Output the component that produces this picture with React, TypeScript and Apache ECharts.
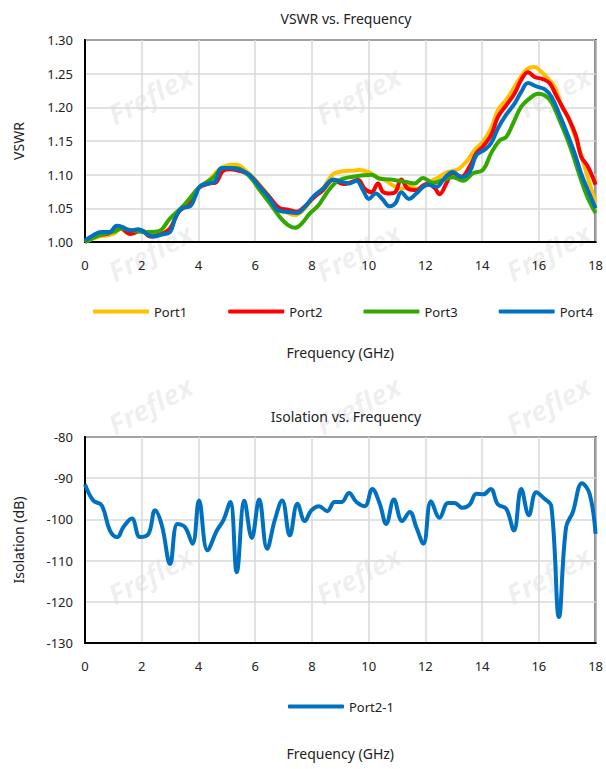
import React, { useEffect, useRef } from "react";
import * as echarts from "echarts";

const FONT = "Noto Sans";

const xTicks = [0, 2, 4, 6, 8, 10, 12, 14, 16, 18];

const port1Freq = [0, 0.5, 1.0, 1.3, 1.6, 2.0, 2.3, 2.7, 3.0, 3.3, 3.6, 4.0, 4.4, 4.8, 5.3, 5.7, 6.16, 6.52, 6.81, 7.1, 7.4, 7.75, 8.04, 8.39, 8.75, 9.1, 9.45, 9.69, 9.98, 10.27, 10.57, 10.86, 11.15, 11.45, 11.68, 11.92, 12.15, 12.5, 12.8, 13.15, 13.44, 13.74, 14.03, 14.32, 14.56, 14.85, 15.15, 15.44, 15.67, 15.85, 16.08, 16.32, 16.55, 16.79, 17.02, 17.26, 17.49, 17.73, 18];
const port1Vswr = [1.0, 1.008, 1.012, 1.02, 1.015, 1.017, 1.01, 1.013, 1.02, 1.045, 1.055, 1.08, 1.093, 1.11, 1.115, 1.105, 1.085, 1.066, 1.048, 1.044, 1.04, 1.05, 1.066, 1.08, 1.101, 1.105, 1.106, 1.107, 1.104, 1.097, 1.092, 1.084, 1.079, 1.083, 1.079, 1.082, 1.089, 1.097, 1.104, 1.108, 1.119, 1.137, 1.149, 1.169, 1.196, 1.211, 1.231, 1.25, 1.259, 1.26, 1.253, 1.243, 1.231, 1.203, 1.186, 1.159, 1.129, 1.095, 1.058];

const port2Freq = [0, 0.4, 0.8, 1.2, 1.6, 2.0, 2.3, 2.7, 3.0, 3.3, 3.6, 4.0, 4.4, 4.6, 4.85, 5.1, 5.5, 5.81, 6.16, 6.52, 6.87, 7.16, 7.46, 7.75, 8.04, 8.39, 8.75, 9.1, 9.33, 9.63, 9.86, 10.1, 10.33, 10.51, 10.74, 10.94, 11.15, 11.39, 11.68, 11.92, 12.09, 12.33, 12.5, 12.74, 12.97, 13.27, 13.56, 13.8, 14.03, 14.32, 14.56, 14.85, 15.15, 15.38, 15.62, 15.85, 16.14, 16.38, 16.61, 16.85, 17.08, 17.32, 17.49, 17.73, 18];
const port2Vswr = [1.0, 1.01, 1.012, 1.022, 1.012, 1.017, 1.008, 1.012, 1.02, 1.045, 1.055, 1.08, 1.087, 1.088, 1.105, 1.108, 1.105, 1.099, 1.083, 1.066, 1.05, 1.048, 1.045, 1.053, 1.065, 1.077, 1.092, 1.086, 1.088, 1.092, 1.079, 1.074, 1.087, 1.074, 1.072, 1.074, 1.093, 1.079, 1.077, 1.084, 1.087, 1.08, 1.071, 1.087, 1.102, 1.097, 1.112, 1.132, 1.142, 1.159, 1.186, 1.203, 1.221, 1.241, 1.252, 1.245, 1.242, 1.236, 1.218, 1.199, 1.181, 1.156, 1.127, 1.112, 1.085];

const port3Freq = [0, 0.5, 1.0, 1.3, 1.7, 2.0, 2.3, 2.6, 3.0, 3.5, 4.0, 4.5, 4.9, 5.3, 5.81, 6.16, 6.52, 6.87, 7.16, 7.4, 7.63, 7.92, 8.22, 8.51, 8.8, 9.1, 9.45, 9.8, 10.1, 10.39, 10.74, 11.04, 11.33, 11.62, 11.92, 12.27, 12.62, 12.97, 13.33, 13.68, 14.03, 14.32, 14.62, 14.85, 15.09, 15.38, 15.67, 15.97, 16.2, 16.44, 16.73, 17.02, 17.26, 17.49, 17.73, 18];
const port3Vswr = [1.0, 1.01, 1.015, 1.02, 1.017, 1.015, 1.015, 1.016, 1.035, 1.055, 1.08, 1.095, 1.11, 1.11, 1.097, 1.077, 1.057, 1.037, 1.025, 1.021, 1.027, 1.042, 1.054, 1.072, 1.087, 1.094, 1.097, 1.099, 1.1, 1.094, 1.093, 1.091, 1.089, 1.087, 1.095, 1.088, 1.092, 1.096, 1.091, 1.102, 1.107, 1.132, 1.151, 1.156, 1.176, 1.201, 1.213, 1.22, 1.218, 1.208, 1.181, 1.151, 1.122, 1.092, 1.065, 1.043];

const port4Freq = [0, 0.29, 0.59, 0.86, 1.12, 1.33, 1.59, 1.88, 2.18, 2.41, 2.71, 3.0, 3.18, 3.41, 3.71, 3.88, 4.06, 4.35, 4.59, 4.82, 5.12, 5.47, 5.81, 6.16, 6.52, 6.81, 7.1, 7.46, 7.75, 8.04, 8.39, 8.75, 9.1, 9.33, 9.57, 9.8, 10.01, 10.25, 10.48, 10.74, 10.95, 11.15, 11.42, 11.68, 11.92, 12.09, 12.39, 12.68, 12.97, 13.27, 13.56, 13.8, 14.09, 14.32, 14.56, 14.85, 15.15, 15.38, 15.62, 15.91, 16.2, 16.44, 16.73, 17.02, 17.26, 17.49, 17.73, 18];
const port4Vswr = [1.002, 1.01, 1.015, 1.015, 1.024, 1.022, 1.017, 1.019, 1.012, 1.008, 1.011, 1.015, 1.035, 1.05, 1.053, 1.067, 1.083, 1.087, 1.09, 1.11, 1.11, 1.107, 1.099, 1.082, 1.064, 1.047, 1.045, 1.043, 1.052, 1.067, 1.079, 1.093, 1.089, 1.087, 1.091, 1.077, 1.064, 1.072, 1.064, 1.053, 1.058, 1.074, 1.064, 1.072, 1.082, 1.085, 1.082, 1.095, 1.104, 1.096, 1.104, 1.129, 1.137, 1.147, 1.169, 1.189, 1.206, 1.223, 1.236, 1.231, 1.227, 1.216, 1.189, 1.159, 1.132, 1.102, 1.077, 1.05];

const isoFreq = [0, 0.29, 0.59, 0.88, 1.14, 1.35, 1.65, 1.94, 2.24, 2.47, 2.71, 3.0, 3.26, 3.53, 3.79, 4.02, 4.32, 4.65, 4.88, 5.12, 5.35, 5.62, 5.88, 6.14, 6.42, 6.69, 6.95, 7.22, 7.49, 7.75, 7.98, 8.25, 8.54, 8.8, 9.04, 9.31, 9.57, 9.86, 10.13, 10.39, 10.62, 10.89, 11.18, 11.45, 11.68, 11.93, 12.2, 12.5, 12.8, 13.03, 13.3, 13.56, 13.8, 14.05, 14.3, 14.56, 14.85, 15.12, 15.38, 15.65, 15.91, 16.2, 16.44, 16.71, 16.96, 17.2, 17.52, 17.79, 18];
const isoDb = [-91.5, -95.4, -96.6, -102.7, -104.3, -101.9, -99.8, -104.3, -103.5, -97.8, -101.5, -110.8, -101.1, -101.9, -105.9, -95.4, -107.5, -102.7, -100.2, -95.8, -112.8, -95.5, -104.5, -95.2, -107.1, -100.2, -95.4, -103.9, -96.2, -100.4, -97.8, -96.8, -98.0, -95.8, -95.8, -93.6, -95.8, -96.8, -92.6, -96.2, -101.1, -95.2, -100.4, -98.2, -101.9, -105.9, -95.6, -99.6, -96.0, -96.0, -97.2, -96.4, -93.8, -93.9, -92.6, -96.4, -97.4, -102.7, -92.6, -99.0, -93.4, -95.0, -96.8, -123.7, -101.9, -98.2, -91.2, -93.8, -103.5];

const vswrNames = ["Port1", "Port2", "Port3", "Port4"];
const isoName = "Port2-1";
const colors = ["#FFC000", "#FF0000", "#33A800", "#0070C0"];

const zip = (xs: number[], ys: number[]) => xs.map((x, i) => [x, ys[i]]);

const watermarkPos = [
  [150, 95], [358, 95], [548, 95],
  [150, 252], [358, 252], [548, 252],
  [150, 405], [358, 405], [548, 405],
  [150, 575], [358, 575], [548, 575],
];

export default function App() {
  const ref = useRef<HTMLDivElement>(null);
  useEffect(() => {
    if (!ref.current) return;
    const chart = echarts.init(ref.current, null, { renderer: "svg" });
    const axisLabel = { color: "#222", fontFamily: FONT, fontSize: 13 };
    const splitLine = { show: true, lineStyle: { color: "#d9d9d9", width: 1.5 } };
    const xAxisCommon = {
      type: "value" as const,
      min: 0,
      max: 18,
      interval: 2,
      axisLine: { show: true, onZero: false, lineStyle: { color: "#000", width: 2 } },
      axisTick: { show: false },
      axisLabel: { ...axisLabel, margin: 16 },
      splitLine,
      name: "Frequency (GHz)",
      nameLocation: "middle" as const,
      nameGap: 103,
      nameTextStyle: { color: "#222", fontFamily: FONT, fontSize: 14 },
    };
    const vswrData = [
      zip(port1Freq, port1Vswr),
      zip(port2Freq, port2Vswr),
      zip(port3Freq, port3Vswr),
      zip(port4Freq, port4Vswr),
    ];
    const legendCommon = {
      icon: "roundRect",
      itemWidth: 56,
      itemHeight: 4,
      padding: 0,
      textStyle: { fontFamily: FONT, fontSize: 13, color: "#222" },
    };
    const option: any = {
      animation: false,
      backgroundColor: "#fff",
      textStyle: { fontFamily: FONT },
      title: [
        {
          text: "VSWR vs. Frequency",
          left: 341,
          top: 6,
          textAlign: "center",
          textStyle: { fontFamily: FONT, fontSize: 14, fontWeight: "normal", color: "#222" },
        },
        {
          text: "Isolation vs. Frequency",
          left: 341,
          top: 404,
          textAlign: "center",
          textStyle: { fontFamily: FONT, fontSize: 14, fontWeight: "normal", color: "#222" },
        },
      ],
      graphic: watermarkPos.map(([x, y]) => ({
        type: "text",
        x,
        y,
        rotation: (28 * Math.PI) / 180,
        z: 0,
        silent: true,
        style: {
          text: "Freflex",
          fill: "rgba(0,0,0,0.07)",
          font: `italic bold 28px "${FONT}"`,
          align: "center",
          verticalAlign: "middle",
        },
      })),
      legend: [
        {
          ...legendCommon,
          data: vswrNames,
          top: 305,
          left: 93,
          itemGap: 41,
        },
        {
          ...legendCommon,
          data: [isoName],
          top: 700,
          left: 288,
        },
      ],
      grid: [
        { left: 85, right: 10, top: 40, height: 202, show: true, borderColor: "#000", borderWidth: 2, backgroundColor: "transparent" },
        { left: 85, right: 10, top: 437, height: 206, show: true, borderColor: "#000", borderWidth: 2, backgroundColor: "transparent" },
      ],
      xAxis: [
        { ...xAxisCommon, gridIndex: 0 },
        { ...xAxisCommon, gridIndex: 1 },
      ],
      yAxis: [
        {
          type: "value",
          gridIndex: 0,
          min: 1,
          max: 1.3,
          interval: 0.05,
          axisLine: { show: true, lineStyle: { color: "#000", width: 2 } },
          axisTick: { show: false },
          axisLabel: { ...axisLabel, margin: 12, formatter: (v: number) => v.toFixed(2) },
          splitLine,
          name: "VSWR",
          nameLocation: "middle",
          nameGap: 60,
          nameTextStyle: { color: "#222", fontFamily: FONT, fontSize: 14 },
        },
        {
          type: "value",
          gridIndex: 1,
          min: -130,
          max: -80,
          interval: 10,
          axisLine: { show: true, lineStyle: { color: "#000", width: 2 } },
          axisTick: { show: false },
          axisLabel: { ...axisLabel, margin: 12 },
          splitLine,
          name: "Isolation (dB)",
          nameLocation: "middle",
          nameGap: 60,
          nameTextStyle: { color: "#222", fontFamily: FONT, fontSize: 14 },
        },
      ],
      series: [
        ...vswrNames.map((name, i) => ({
          name,
          type: "line",
          xAxisIndex: 0,
          yAxisIndex: 0,
          data: vswrData[i],
          smooth: 0.4,
          showSymbol: false,
          symbol: "none",
          z: 3 + i,
          lineStyle: { color: colors[i], width: 4 },
          itemStyle: { color: colors[i] },
        })),
        {
          name: isoName,
          type: "line",
          xAxisIndex: 1,
          yAxisIndex: 1,
          data: zip(isoFreq, isoDb),
          smooth: 0.4,
          showSymbol: false,
          symbol: "none",
          z: 3,
          lineStyle: { color: colors[3], width: 4 },
          itemStyle: { color: colors[3] },
        },
      ],
    };
    chart.setOption(option);
    return () => chart.dispose();
  }, []);
  return (
    <div
      ref={ref}
      style={{ position: "fixed", left: 0, top: 0, width: 606, height: 769, background: "#fff" }}
    />
  );
}
